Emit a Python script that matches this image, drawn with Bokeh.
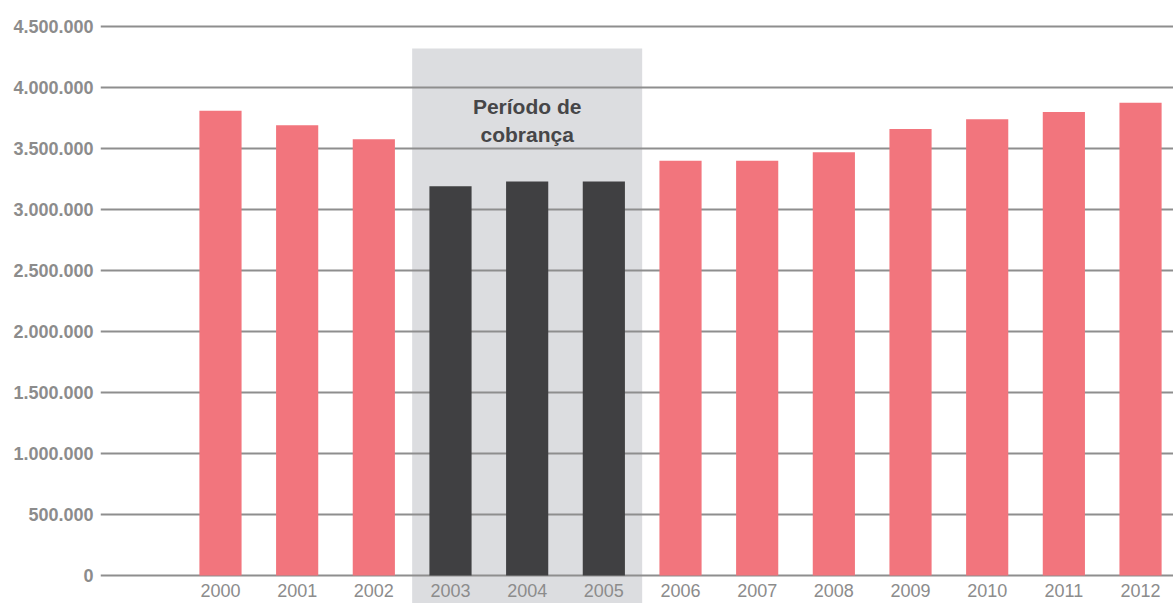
from bokeh.plotting import figure
from bokeh.models import Range1d, FixedTicker, BoxAnnotation, ColumnDataSource
from bokeh.core.properties import value
from bokeh.embed import file_html
from bokeh.resources import INLINE

# ---- data ----
years = [2000, 2001, 2002, 2003, 2004, 2005, 2006, 2007, 2008, 2009, 2010, 2011, 2012]
year_labels = [str(y) for y in years]
values = [3810000, 3690000, 3575000, 3190000, 3230000, 3230000, 3400000,
          3400000, 3470000, 3660000, 3740000, 3800000, 3875000]
period_years = [2003, 2004, 2005]
period_label = "Período de\ncobrança"
y_ticks = [0, 500000, 1000000, 1500000, 2000000, 2500000, 3000000, 3500000, 4000000, 4500000]
y_tick_labels = ["0", "500.000", "1.000.000", "1.500.000", "2.000.000",
                 "2.500.000", "3.000.000", "3.500.000", "4.000.000", "4.500.000"]

# ---- style ----
PINK = "#f2757d"
DARK = "#404042"
SHADE = "#dcdde0"
GRID = "#8e8e8e"
LABEL = "#8c8c8c"
FONT = "Liberation Sans"

colors = [DARK if y in period_years else PINK for y in years]
src = ColumnDataSource(dict(x=years, top=values, color=colors, label=year_labels,
                            zero=[0] * len(years)))

p = figure(width=1173, height=603, output_backend="svg", toolbar_location=None,
           x_range=Range1d(1998.435, 2012.430), y_range=Range1d(-229500, 4713000),
           min_border_left=100, min_border_right=0, min_border_top=0, min_border_bottom=0)
p.outline_line_color = None
p.background_fill_color = "white"
p.border_fill_color = "white"

p.xaxis.visible = False
p.below = []
yax = p.yaxis[0]
yax.ticker = FixedTicker(ticks=y_ticks)
yax.major_label_overrides = {t: l for t, l in zip(y_ticks, y_tick_labels)}
yax.axis_line_color = None
yax.major_tick_line_color = None
yax.minor_tick_line_color = None
yax.major_tick_out = 0
yax.major_tick_in = 0
yax.major_label_standoff = 7
yax.major_label_text_font = FONT
yax.major_label_text_font_style = "bold"
yax.major_label_text_font_size = "18px"
yax.major_label_text_color = LABEL

p.xgrid.visible = False
p.ygrid.ticker = FixedTicker(ticks=y_ticks)
p.ygrid.grid_line_color = GRID
p.ygrid.grid_line_width = 2

shade = BoxAnnotation(left=min(period_years) - 0.5, right=max(period_years) + 0.5,
                      top=4320000, fill_color=SHADE, fill_alpha=1.0,
                      line_alpha=0, level="image")
p.add_layout(shade)

p.vbar(x="x", top="top", bottom=0, width=0.55, fill_color="color",
       line_color=None, source=src)

p.text(x=[sum(period_years) / len(period_years)], y=[3730000], text=[period_label],
       text_align="center", text_baseline="middle", text_font=value(FONT),
       text_font_style="bold", text_font_size="21px", text_color="#464648",
       text_line_height=1.25)

p.text(x="x", y="zero", text="label", source=src, text_align="center",
       text_baseline="middle", y_offset=15, text_font=value(FONT),
       text_font_size="18px", text_color=LABEL)

open("out.html", "w").write(file_html(p, INLINE))
